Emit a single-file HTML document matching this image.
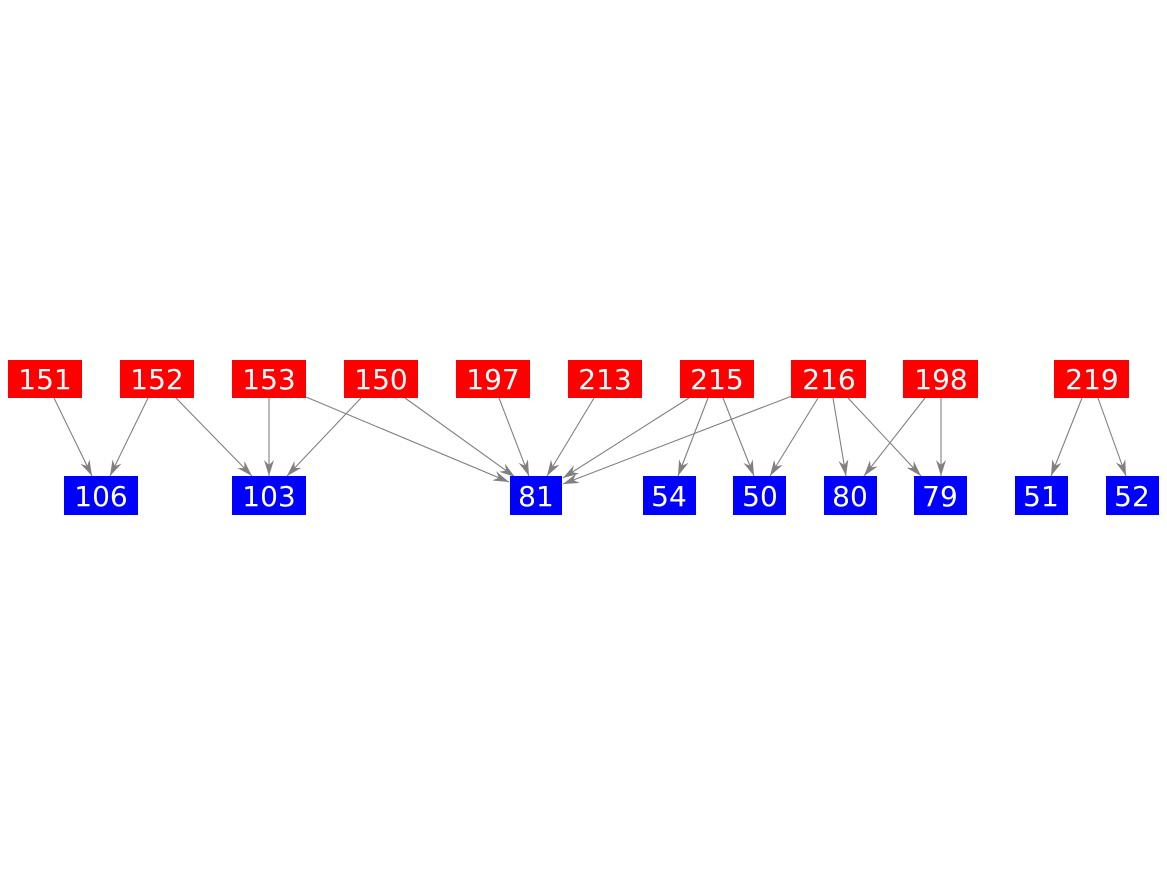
<!DOCTYPE html>
<html><head><style>body{margin:0;background:#fff}svg{display:block}text{font-family:"DejaVu Sans",sans-serif;font-size:28px;fill:#fff;text-anchor:middle}</style></head><body>
<svg width="1167" height="875" xmlns="http://www.w3.org/2000/svg">
<defs><marker id="a" viewBox="0 0 16 10" refX="16" refY="5" markerWidth="16" markerHeight="10" markerUnits="userSpaceOnUse" orient="auto"><path d="M0,0L16,5L0,10L5,5z" fill="#808080"/></marker></defs>
<g stroke="#808080" stroke-width="1.1" marker-end="url(#a)">
<line x1="54" y1="398" x2="92" y2="476"/>
<line x1="148" y1="398" x2="110" y2="476"/>
<line x1="176" y1="398" x2="252" y2="476"/>
<line x1="269" y1="398" x2="269" y2="476"/>
<line x1="361" y1="398" x2="287" y2="476"/>
<line x1="306" y1="397" x2="509" y2="482"/>
<line x1="405" y1="398" x2="515" y2="477"/>
<line x1="499" y1="398" x2="529" y2="476"/>
<line x1="594" y1="398" x2="547" y2="476"/>
<line x1="689" y1="398" x2="563" y2="478"/>
<line x1="792" y1="396" x2="563" y2="484"/>
<line x1="708" y1="398" x2="678" y2="476"/>
<line x1="723" y1="398" x2="754" y2="476"/>
<line x1="818" y1="398" x2="770" y2="476"/>
<line x1="833" y1="398" x2="846" y2="476"/>
<line x1="848" y1="398" x2="921" y2="476"/>
<line x1="925" y1="398" x2="864" y2="476"/>
<line x1="941" y1="398" x2="941" y2="476"/>
<line x1="1082" y1="398" x2="1051" y2="476"/>
<line x1="1098" y1="398" x2="1126" y2="476"/>
</g>
<g fill="#f00">
<rect x="8" y="360" width="74" height="38"/><rect x="120" y="360" width="74" height="38"/><rect x="232" y="360" width="74" height="38"/><rect x="344" y="360" width="74" height="38"/><rect x="456" y="360" width="74" height="38"/><rect x="568" y="360" width="74" height="38"/><rect x="680" y="360" width="74" height="38"/><rect x="791" y="360" width="75" height="38"/><rect x="903" y="360" width="75" height="38"/><rect x="1054" y="360" width="75" height="38"/>
</g>
<g fill="#00f">
<rect x="64" y="476" width="74" height="39"/><rect x="232" y="476" width="74" height="39"/><rect x="510" y="476" width="52" height="39"/><rect x="643" y="476" width="53" height="39"/><rect x="733" y="476" width="53" height="39"/><rect x="824" y="476" width="53" height="39"/><rect x="914" y="476" width="53" height="39"/><rect x="1015" y="476" width="53" height="39"/><rect x="1106" y="476" width="53" height="39"/>
</g>
<text x="45" y="389">151</text><text x="157" y="389">152</text><text x="269" y="389">153</text><text x="381" y="389">150</text><text x="493" y="389">197</text><text x="605" y="389">213</text><text x="717" y="389">215</text><text x="829" y="389">216</text><text x="941" y="389">198</text><text x="1092" y="389">219</text>
<text x="101" y="506">106</text><text x="269" y="506">103</text><text x="536" y="506">81</text><text x="669" y="506">54</text><text x="760" y="506">50</text><text x="850" y="506">80</text><text x="940" y="506">79</text><text x="1041" y="506">51</text><text x="1132" y="506">52</text>
</svg>
</body></html>
